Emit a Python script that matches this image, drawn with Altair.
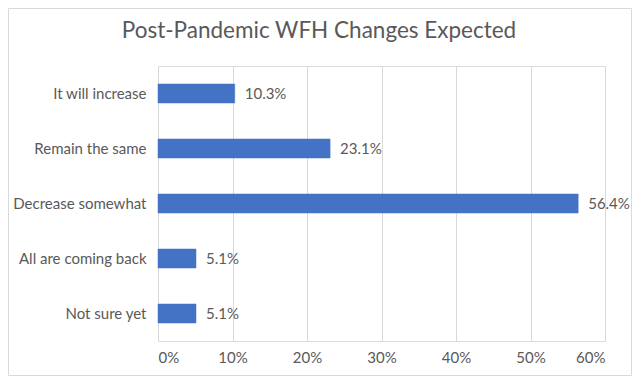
import altair as alt
import pandas as pd

categories = ["It will increase", "Remain the same", "Decrease somewhat", "All are coming back", "Not sure yet"]
values = [0.103, 0.231, 0.564, 0.051, 0.051]
labels = ["10.3%", "23.1%", "56.4%", "5.1%", "5.1%"]
title_text = ["Post-Pandemic WFH Changes Expected"]

df = pd.DataFrame({"cat": categories, "val": values, "lab": labels})

FONT = "Lato"
GREY = "#595959"
FS = 15

W, H = 447, 275
PL, PT = 150, 58
PR = 624 - PL - W
PB = 368 - PT - H

y_enc = alt.Y("cat:N", sort=categories,
              scale=alt.Scale(paddingInner=0.655, paddingOuter=0.3275),
              axis=alt.Axis(title=None, domain=False, ticks=False, labelPadding=12,
                            labelFontSize=FS, labelColor=GREY, labelFont=FONT, grid=False))
x_enc = alt.X("val:Q", scale=alt.Scale(domain=[0, 0.6]),
              axis=alt.Axis(title=None, format=".0%", values=[0, 0.1, 0.2, 0.3, 0.4, 0.5, 0.6],
                            domain=False, ticks=False, labelPadding=9,
                            labelFontSize=FS, labelColor=GREY, labelFont=FONT,
                            grid=True, gridColor="#D9D9D9", gridWidth=1))

bars = alt.Chart(df).mark_bar(color="#4472C4", stroke="#4472C4", strokeWidth=0.5).encode(x=x_enc, y=y_enc)
text = alt.Chart(df).mark_text(align="left", dx=10, fontSize=FS, font=FONT, color=GREY).encode(
    x="val:Q", y=alt.Y("cat:N", sort=categories), text="lab:N")

border = alt.Chart(pd.DataFrame({"a": [0]})).mark_rect(
    fill=None, stroke="#D9D9D9", strokeWidth=1).encode(
    x=alt.value(-PL + 0.5), x2=alt.value(W + PR - 0.5),
    y=alt.value(-PT + 0.5), y2=alt.value(H + PB - 0.5))

title = alt.Chart(pd.DataFrame({"t": title_text})).mark_text(
    align="center", baseline="alphabetic", fontSize=22.5, font=FONT, color=GREY).encode(
    x=alt.value(161), y=alt.value(-28), text="t:N")

chart = alt.layer(border, bars, text, title).properties(
    width=W, height=H,
    padding={"left": PL, "top": PT, "right": PR, "bottom": PB},
    autosize=alt.AutoSizeParams(type="none"),
).configure_view(stroke=None).configure(background="white")

chart.save("out.html", embed_options={"renderer": "svg", "actions": False})
